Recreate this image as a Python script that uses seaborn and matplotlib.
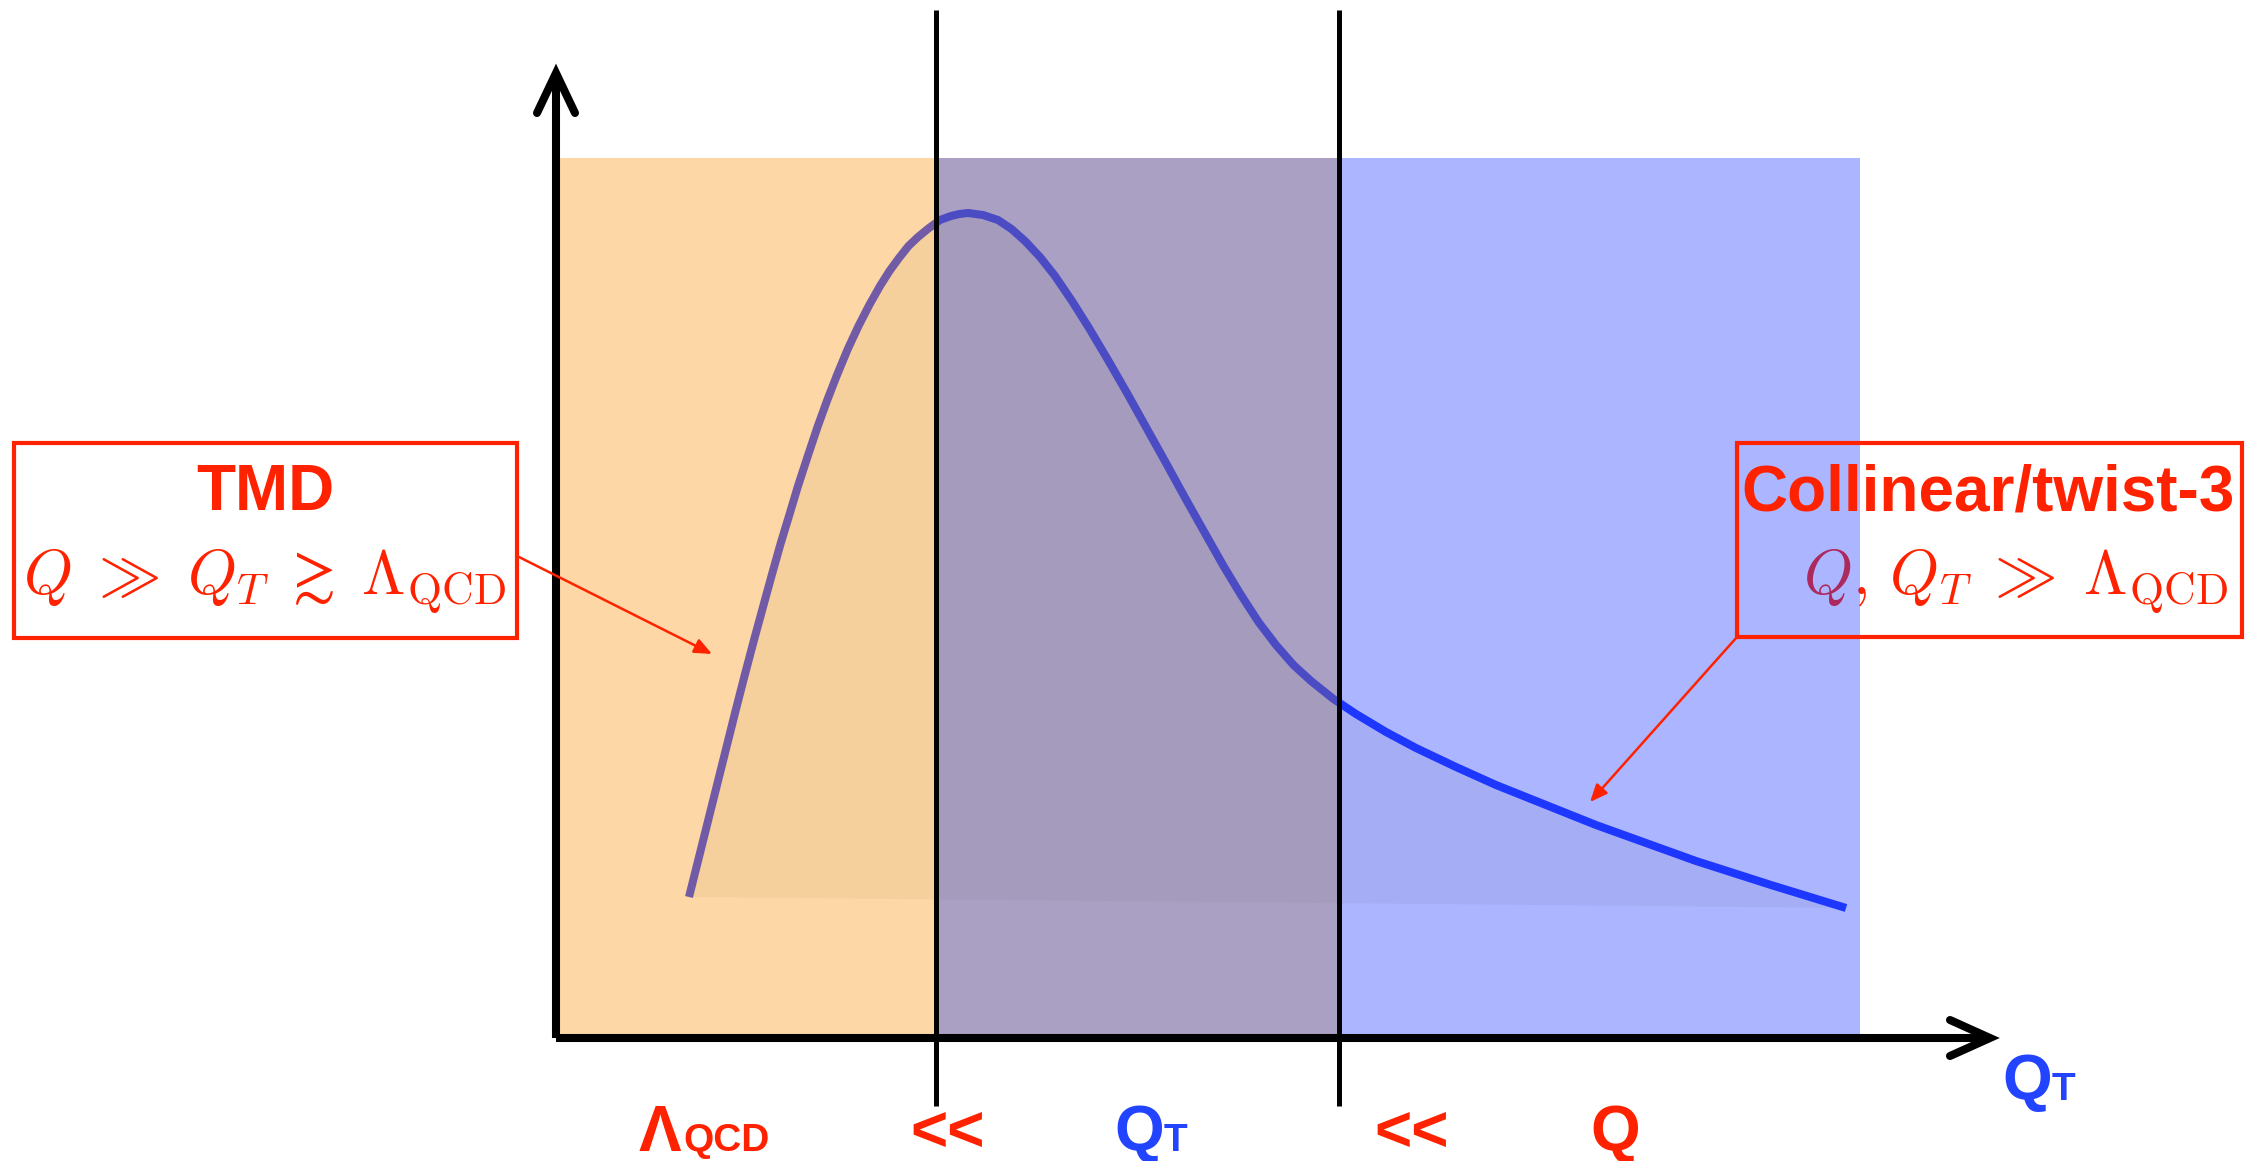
import numpy as np
import matplotlib
matplotlib.use("Agg")
import matplotlib.pyplot as plt
import seaborn as sns
from matplotlib.patches import Rectangle

# ---------------- data (schematic units) ----------------
# Q_T distribution sketch (x: Q_T, y: cross section)
curve_x = [1.33, 1.42, 1.52, 1.61, 1.70, 1.79, 1.885, 1.98, 2.07, 2.158, 2.245, 2.333,
           2.42, 2.518, 2.615, 2.713, 2.81, 2.918, 3.025, 3.133, 3.24, 3.335, 3.43,
           3.525, 3.62, 3.73, 3.84, 3.95, 4.035, 4.12, 4.27, 4.42, 4.555, 4.69, 4.84,
           4.99, 5.16, 5.33, 5.52, 5.71, 5.905, 6.10, 6.30, 6.50, 6.675, 6.85, 7.025,
           7.20, 7.375, 7.55, 7.775, 8.00, 8.30, 8.60, 9.00, 9.40, 9.90, 10.40, 10.90,
           11.40, 12.15, 12.90]
curve_y = [1.41, 1.77, 2.17, 2.53, 2.89, 3.25, 3.62, 3.98, 4.31, 4.63, 4.94, 5.23,
           5.52, 5.82, 6.11, 6.38, 6.63, 6.89, 7.12, 7.33, 7.52, 7.67, 7.80,
           7.92, 8.01, 8.10, 8.18, 8.22, 8.24, 8.25, 8.23, 8.18, 8.09, 7.97, 7.81,
           7.62, 7.37, 7.10, 6.78, 6.45, 6.10, 5.75, 5.385, 5.03, 4.72, 4.43, 4.16,
           3.93, 3.73, 3.57, 3.39, 3.24, 3.06, 2.90, 2.71, 2.53, 2.33, 2.13, 1.95,
           1.77, 1.53, 1.30]

region_edges = [0.0, 3.80, 7.83, 13.04]     # TMD | overlap | collinear
region_top = 8.80
boundaries = [3.80, 7.83]
axis_x_end = 14.34
axis_y_end = 9.65

box_titles = ["TMD", "Collinear/twist-3"]
box_formulas = [r"$Q \;\gg\; Q_T \;\gtrsim\; \Lambda_{\rm QCD}$",
                r"$Q,\, Q_T \;\gg\; \Lambda_{\rm QCD}$"]
scale_main = ["\u039b", "<<", "Q", "<<", "Q"]
scale_sub = ["QCD", "", "T", "", ""]
axis_label_main = "Q"
axis_label_sub = "T"

# ---------------- style ----------------
RED = "#FF2200"
BLUE = "#2244FF"
CURVE = "#1E37FF"
region_colors = [(250/255, 150/255, 21/255, 0.38),
                 (109/255, 91/255, 153/255, 0.58),
                 (30/255, 55/255, 255/255, 0.37)]

sns.set_theme(style="white")
plt.rcParams["font.family"] = ["Liberation Sans", "DejaVu Sans"]
plt.rcParams["mathtext.fontset"] = "cm"

fig = plt.figure(figsize=(22.46, 11.61), dpi=100)
ax = fig.add_axes([0, 0, 1, 1])
ax.set_xlim(-5.56, 16.90)
ax.set_ylim(-1.23, 10.38)
ax.axis("off")

# shaded area under curve
ax.fill(curve_x, curve_y, color=(0.44, 0.44, 0.12), alpha=0.07, lw=0, zorder=1)
# curve
sns.lineplot(x=curve_x, y=curve_y, ax=ax, color=CURVE, lw=5.8, sort=False,
             estimator=None, zorder=2, solid_capstyle="butt", solid_joinstyle="round")

# boxes
bx = [(-5.42, 4.00, 5.03, 1.95), (11.81, 4.01, 5.05, 1.94)]
for (x0, y0, w, h) in bx:
    ax.add_patch(Rectangle((x0, y0), w, h, fill=False, ec=RED, lw=3.0, zorder=6))
ax.text(-2.91, 5.28, box_titles[0], color=RED, fontsize=46, fontweight="bold",
        ha="center", va="baseline", zorder=6)
ax.text(-2.91, 4.43, box_formulas[0], color=RED, fontsize=45,
        ha="center", va="baseline", zorder=6)
ax.text(14.32, 5.28, box_titles[1], color=RED, fontsize=46, fontweight="bold",
        ha="center", va="baseline", zorder=6)
# formula of the right box lies under the blue band
ax.text(16.72, 4.43, box_formulas[1], color=RED, fontsize=45,
        ha="right", va="baseline", zorder=2)

# regions
ax.bar(region_edges[:-1], region_top, width=np.diff(region_edges), align="edge",
       color=region_colors, lw=0, zorder=3)

# boundaries
ax.vlines(boundaries, -0.68, 10.28, color="black", lw=3.6, zorder=4)

# axes with open arrow heads
ax.plot([0, 0], [0, axis_y_end], color="black", lw=5.8, solid_capstyle="butt", zorder=5)
ax.plot([0, axis_x_end], [0, 0], color="black", lw=5.8, solid_capstyle="butt", zorder=5)
ax.plot([-0.19, 0, 0.19], [axis_y_end - 0.40, axis_y_end, axis_y_end - 0.40],
        color="black", lw=5.8, solid_capstyle="round", solid_joinstyle="miter", zorder=5)
ax.plot([axis_x_end - 0.40, axis_x_end, axis_x_end - 0.40], [0.18, 0, -0.18],
        color="black", lw=5.8, solid_capstyle="round", solid_joinstyle="miter", zorder=5)

# pointer arrows
ap = dict(arrowstyle="-|>,head_length=0.7,head_width=0.3", color=RED, lw=1.8,
          mutation_scale=15, shrinkA=0, shrinkB=0)
ax.annotate("", xy=(1.56, 3.84), xytext=(-0.39, 4.82), arrowprops=ap, zorder=7)
ax.annotate("", xy=(10.34, 2.36), xytext=(11.81, 4.01), arrowprops=ap, zorder=7)

# scale ordering labels below the axis
main_pos = [(0.83, "left"), (3.92, "center"), (5.58, "left"), (8.56, "center"), (10.59, "center")]
sub_x = [1.27, None, 6.08, None, None]
colors = [RED, RED, BLUE, RED, RED]
for (mx, ha), m, s, sx, c in zip(main_pos, scale_main, scale_sub, sub_x, colors):
    ax.text(mx, -1.13, m, color=c, fontsize=46, fontweight="bold", ha=ha,
            va="baseline", zorder=6)
    if s:
        ax.text(sx, -1.13, s, color=c, fontsize=28, fontweight="bold", ha="left",
                va="baseline", zorder=6)

ax.text(14.46, -0.62, axis_label_main, color=BLUE, fontsize=46, fontweight="bold",
        ha="left", va="baseline", zorder=6)
ax.text(14.96, -0.62, axis_label_sub, color=BLUE, fontsize=28, fontweight="bold",
        ha="left", va="baseline", zorder=6)

fig.savefig("out.png", dpi=100)
